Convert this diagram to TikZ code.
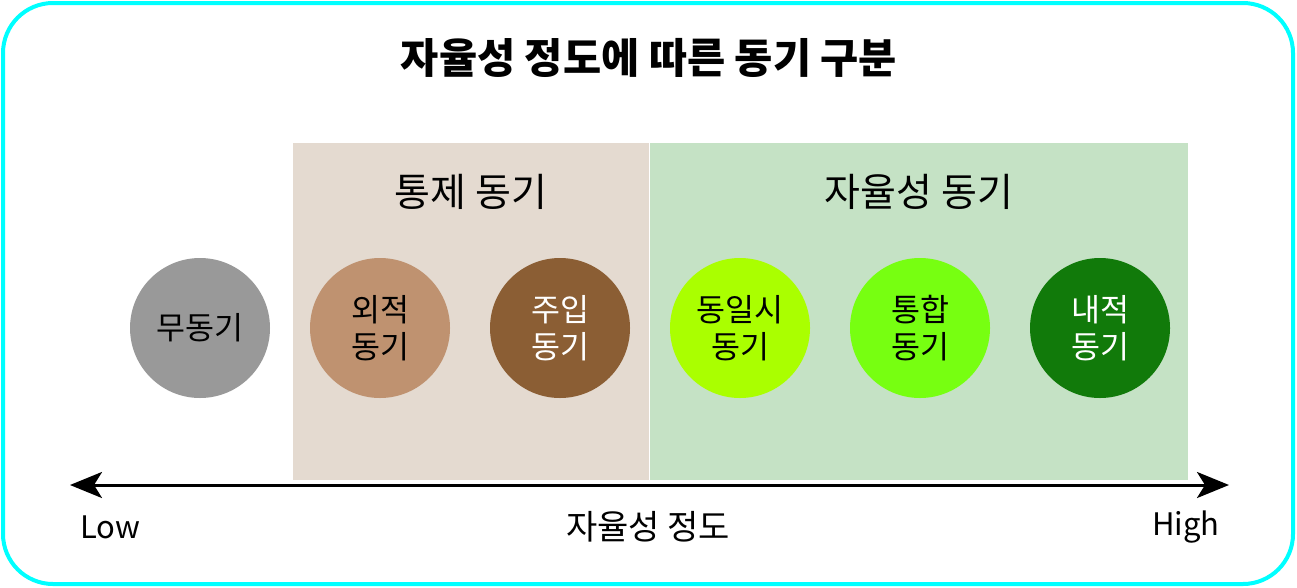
\documentclass[tikz,border=0pt]{standalone}
\usepackage{fontspec}
\setmainfont{Noto Sans CJK KR}
\usetikzlibrary{arrows.meta}
\definecolor{frame}{HTML}{00FFFF}
\definecolor{ctrlbg}{HTML}{E4DAD0}
\definecolor{autobg}{HTML}{C5E2C5}
\definecolor{cgray}{HTML}{999999}
\definecolor{ctan}{HTML}{BF9270}
\definecolor{cbrown}{HTML}{8B5E34}
\definecolor{clime}{HTML}{AAFF00}
\definecolor{cgreen}{HTML}{77FF11}
\definecolor{cdark}{HTML}{117A0A}
\tikzset{
  motive/.style={circle, minimum size=140pt, inner sep=0pt, align=center,
    font=\fontsize{31.5}{37}\selectfont},
  grouplabel/.style={font=\fontsize{39}{44}\selectfont},
}
\begin{document}
\begin{tikzpicture}[x=1pt,y=-1pt]
\useasboundingbox (0,0) rectangle (1297,587);
\draw[frame, line width=4pt, rounded corners=50pt] (3,3) rectangle (1293,584);
\node[font=\bfseries\fontsize{41.5}{46}\selectfont] (title) at (649,58) {자율성 정도에 따른 동기 구분};
\fill[ctrlbg] (293,143) rectangle (649,480);
\fill[autobg] (650,143) rectangle (1188,480);
\node[grouplabel] (ctrl) at (471,192) {통제 동기};
\node[grouplabel] (auto) at (919,192) {자율성 동기};
\node[motive, fill=cgray] (m1) at (200,328) {무동기};
\node[motive, fill=ctan] (m2) at (380,328) {외적\\동기};
\node[motive, fill=cbrown, text=white] (m3) at (560,328) {주입\\동기};
\node[motive, fill=clime] (m4) at (740,328) {동일시\\동기};
\node[motive, fill=cgreen] (m5) at (920,328) {통합\\동기};
\node[motive, fill=cdark, text=white] (m6) at (1100,328) {내적\\동기};
\coordinate (lo) at (70,485);
\coordinate (hi) at (1229,485);
\draw[line width=3pt, {Stealth[length=32pt,width=26pt,inset=8pt]}-{Stealth[length=32pt,width=26pt,inset=8pt]}] (lo) -- (hi);
\node[font=\fontsize{31}{36}\selectfont] (low) at (110,527) {Low};
\node[font=\fontsize{34}{38}\selectfont] (axis) at (648,527) {자율성 정도};
\node[font=\fontsize{31}{36}\selectfont] (high) at (1186,527) {High};
\end{tikzpicture}
\end{document}
